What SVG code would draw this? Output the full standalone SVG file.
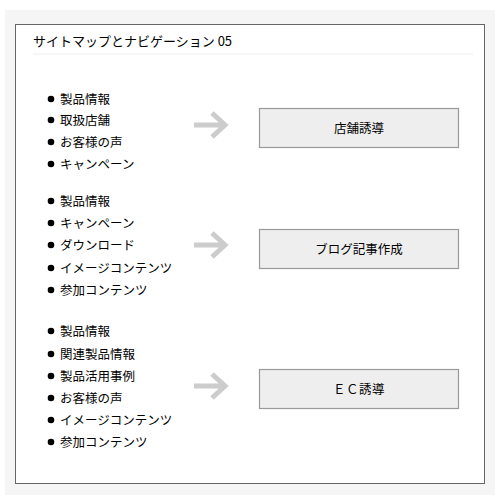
<svg xmlns="http://www.w3.org/2000/svg" width="500" height="500" viewBox="0 0 500 500">
<style>
text{font-family:"Noto Sans CJK JP","Noto Sans",sans-serif;fill:#000}
.t{font-size:13px}
.i{font-size:12.5px}
.b{font-size:12.5px;text-anchor:middle}
.box{fill:#eeeeee;stroke:#999;stroke-width:1.2}
.arr{fill:none;stroke:#cccccc;stroke-width:5}
circle{fill:#000}
</style>
<defs>
<path id="arrow" class="arr" d="M194,0H224M212,-12L225,0L212,12"/>
</defs>
<rect x="5" y="10" width="490" height="485" fill="#f5f5f5"/>
<rect x="15.5" y="24.5" width="469" height="459" fill="#fff" stroke="#666" stroke-width="1"/>
<text class="t" x="33" y="46">サイトマップとナビゲーション 05</text>
<line x1="33" y1="54" x2="473" y2="54" stroke="#eee" stroke-width="1"/>
<g id="list1">
<circle cx="51" cy="99" r="3.3"/><text class="i" x="60" y="103.5">製品情報</text>
<circle cx="51" cy="120" r="3.3"/><text class="i" x="60" y="124.5">取扱店舗</text>
<circle cx="51" cy="142" r="3.3"/><text class="i" x="60" y="146.5">お客様の声</text>
<circle cx="51" cy="164" r="3.3"/><text class="i" x="60" y="168.5">キャンペーン</text>
</g>
<g id="list2">
<circle cx="51" cy="201" r="3.3"/><text class="i" x="60" y="205.5">製品情報</text>
<circle cx="51" cy="223" r="3.3"/><text class="i" x="60" y="227.5">キャンペーン</text>
<circle cx="51" cy="245" r="3.3"/><text class="i" x="60" y="249.5">ダウンロード</text>
<circle cx="51" cy="268" r="3.3"/><text class="i" x="60" y="272.5">イメージコンテンツ</text>
<circle cx="51" cy="290" r="3.3"/><text class="i" x="60" y="294.5">参加コンテンツ</text>
</g>
<g id="list3">
<circle cx="51" cy="331" r="3.3"/><text class="i" x="60" y="335.5">製品情報</text>
<circle cx="51" cy="354" r="3.3"/><text class="i" x="60" y="358.5">関連製品情報</text>
<circle cx="51" cy="376" r="3.3"/><text class="i" x="60" y="380.5">製品活用事例</text>
<circle cx="51" cy="398" r="3.3"/><text class="i" x="60" y="402.5">お客様の声</text>
<circle cx="51" cy="420" r="3.3"/><text class="i" x="60" y="424.5">イメージコンテンツ</text>
<circle cx="51" cy="442" r="3.3"/><text class="i" x="60" y="446.5">参加コンテンツ</text>
</g>
<g id="connectors">
<use href="#arrow" y="125"/>
<use href="#arrow" y="245"/>
<use href="#arrow" y="386"/>
</g>
<g id="node1"><rect class="box" x="259.5" y="108.5" width="199" height="39"/><text class="b" x="359" y="132.5">店舗誘導</text></g>
<g id="node2"><rect class="box" x="259.5" y="229.5" width="199" height="39"/><text class="b" x="359" y="253.5">ブログ記事作成</text></g>
<g id="node3"><rect class="box" x="259.5" y="369.5" width="199" height="39"/><text class="b" x="359" y="393.5" letter-spacing="0.5">ＥＣ誘導</text></g>
</svg>
